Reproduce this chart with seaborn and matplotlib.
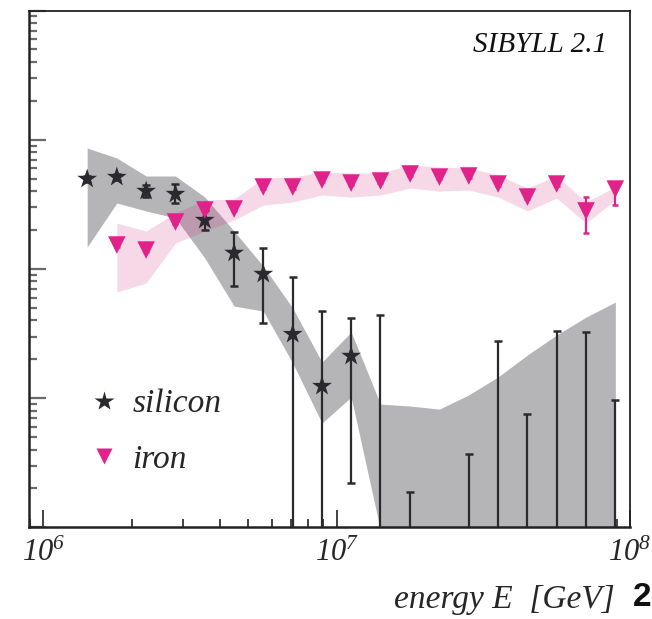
import numpy as np
import pandas as pd
import matplotlib
matplotlib.use("Agg")
import matplotlib.pyplot as plt
import seaborn as sns
from matplotlib.lines import Line2D
from matplotlib.ticker import LogLocator, FixedLocator, FixedFormatter, NullFormatter

# energy bin centres [GeV]
energy = [1.41e6, 1.78e6, 2.24e6, 2.82e6, 3.55e6, 4.47e6, 5.62e6, 7.08e6, 8.91e6, 1.12e7,
          1.41e7, 1.78e7, 2.24e7, 2.82e7, 3.55e7, 4.47e7, 5.62e7, 7.08e7, 8.91e7]
nan = np.nan

# silicon: unfolded flux, statistical error bars and systematic band
si_flux = [4970, 5140, 4010, 3800, 2390, 1330, 914, 313, 124, 212,
           nan, nan, nan, nan, nan, nan, nan, nan, nan]
si_err_hi = [5220, 5400, 4460, 4540, 2860, 1930, 1450, 866, 472, 417,
             440, 18.8, nan, 36.9, 277, 75.3, 331, 325, 96.7]
si_err_lo = [4730, 4900, 3600, 3240, 2000, 738, 381, 9, 9, 22.0,
             9, 9, nan, 9, 9, 9, 9, 9, 9]
si_band_hi = [8630, 7220, 5240, 5240, 3600, 1960, 1050, 498, 190, 325,
              90, 86.9, 82.3, 106, 146, 216, 308, 424, 554]
si_band_lo = [1478, 3240, 2810, 2480, 1215, 516, 472, 187, 64.2, 102,
              9.5, 9, 9, 9, 9, 9, 9, 9, 9]

# iron (starts at the second bin)
fe_energy = energy[1:]
fe_flux = [1531, 1400, 2307, 2858, 2910, 4305, 4305, 4875, 4620, 4790,
           5430, 5140, 5240, 4540, 3600, 4540, 2810, 4150]
fe_err_hi = [1623, 1484, 2445, 3029, 3085, 4563, 4563, 5168, 4897, 5077,
             5756, 5448, 5554, 4812, 3816, 4812, 3600, 4700]
fe_err_lo = [1486, 1359, 2240, 2775, 2825, 4180, 4180, 4733, 4485, 4650,
             5272, 4990, 5087, 4408, 3495, 4408, 1900, 3125]
fe_band_hi = [2266, 1965, 2710, 3415, 3475, 5055, 5140, 5625, 5525, 5525,
              6370, 6150, 6040, 5330, 4230, 5240, 3295, 4305]
fe_band_lo = [663, 778, 1587, 1965, 2390, 3125, 3295, 3735, 3600, 3735,
              4230, 4010, 4080, 3600, 2810, 3540, 2266, 3415]

labels = ["silicon", "iron"]
model_name = "SIBYLL 2.1"
xtick_vals = [1e6, 1e7, 1e8]
xtick_text = ["$10^{6}$", "$10^{7}$", "$10^{8}$"]

si_color = "#2a292d"
fe_color = "#e0228a"
band_grey = "#b5b4b7"

sns.set_theme(style="ticks")
plt.rcParams["font.family"] = ["Liberation Serif", "DejaVu Serif"]
plt.rcParams["mathtext.fontset"] = "custom"
plt.rcParams["mathtext.rm"] = "Liberation Serif:italic"
plt.rcParams["mathtext.it"] = "Liberation Serif:italic"

fig, ax = plt.subplots(figsize=(6.52, 6.19), dpi=100)
fig.subplots_adjust(left=0.0445, right=0.9663, bottom=0.148, top=0.983)
ax.set_xscale("log")
ax.set_yscale("log")

si_hi = np.array(si_err_hi)
si_lo = np.array(si_err_lo)
fe_hi = np.array(fe_err_hi)
fe_lo = np.array(fe_err_lo)

# systematic bands
ax.fill_between(energy, si_band_lo, si_band_hi, color=band_grey, lw=0, zorder=1)
ax.fill_between(fe_energy, fe_band_lo, fe_band_hi, color="#d2287a", alpha=0.18,
                lw=0, zorder=2)

# statistical error bars
ax.errorbar(energy, si_hi, yerr=[si_hi - si_lo, np.zeros_like(si_hi)], fmt="none",
            ecolor=si_color, elinewidth=1.6, capsize=3, capthick=1.8, zorder=3)
ax.errorbar(fe_energy, fe_hi, yerr=[fe_hi - fe_lo, np.zeros_like(fe_hi)], fmt="none",
            ecolor=fe_color, elinewidth=1.6, capsize=2.5, capthick=1.8, zorder=3)

df = pd.concat([
    pd.DataFrame({"energy": energy, "flux": si_flux, "element": labels[0]}),
    pd.DataFrame({"energy": fe_energy, "flux": fe_flux, "element": labels[1]}),
]).dropna()

sns.scatterplot(data=df, x="energy", y="flux", hue="element", style="element",
                size="element", markers={"silicon": "*", "iron": "v"},
                sizes={"silicon": 225, "iron": 160},
                palette={"silicon": si_color, "iron": fe_color},
                linewidth=0, legend=False, ax=ax, zorder=4)

ax.set_xlim(10 ** 5.951, 1e8)
ax.set_ylim(10, 1e5)

# axis ticks
ax.xaxis.set_major_locator(FixedLocator(xtick_vals))
ax.xaxis.set_major_formatter(FixedFormatter(xtick_text))
ax.xaxis.set_minor_locator(LogLocator(base=10, subs=np.arange(2, 10), numticks=20))
ax.xaxis.set_minor_formatter(NullFormatter())
ax.yaxis.set_major_locator(LogLocator(base=10, numticks=10))
ax.yaxis.set_minor_locator(LogLocator(base=10, subs=np.arange(2, 10), numticks=20))
ax.yaxis.set_major_formatter(NullFormatter())
ax.yaxis.set_minor_formatter(NullFormatter())

ax.tick_params(axis="x", which="both", direction="in", bottom=True, top=False,
               color="#222222", width=1.2, labelsize=22, pad=8)
ax.tick_params(axis="x", which="major", length=12)
ax.tick_params(axis="x", which="minor", length=6)
ax.tick_params(axis="y", which="both", direction="in", left=True, right=False,
               color="#6a6a6a", width=1.6)
ax.tick_params(axis="y", which="major", length=12)
ax.tick_params(axis="y", which="minor", length=6)

for side, sp in ax.spines.items():
    sp.set_visible(True)
    sp.set_color("#222222")
    sp.set_linewidth(1.8 if side in ("left", "bottom") else 1.3)

ax.set_ylabel("")
ax.set_xlabel("energy E  [GeV]", fontsize=24, style="italic", ha="right", va="top")
ax.xaxis.set_label_coords(0.975, -0.110)

ax.text(0.962, 0.933, model_name, transform=ax.transAxes, ha="right", va="center",
        fontsize=21, style="italic", color="#111111")

handles = [
    Line2D([], [], ls="none", marker="*", markersize=14.5, color=si_color, mec="none"),
    Line2D([], [], ls="none", marker="v", markersize=12, color=fe_color, mec="none"),
]
ax.legend(handles, labels, loc="center left", bbox_to_anchor=(0.103, 0.185),
          frameon=False, prop={"family": "Liberation Serif", "style": "italic", "size": 24},
          handlelength=0.8, handletextpad=0.45, labelspacing=0.75, borderpad=0,
          borderaxespad=0)

fig.text(651 / 652, 1 - 598 / 619, "2", fontsize=24, fontweight="bold",
         family="Liberation Sans", ha="right", va="center", color="#111111")

fig.savefig("out.png", dpi=100)
